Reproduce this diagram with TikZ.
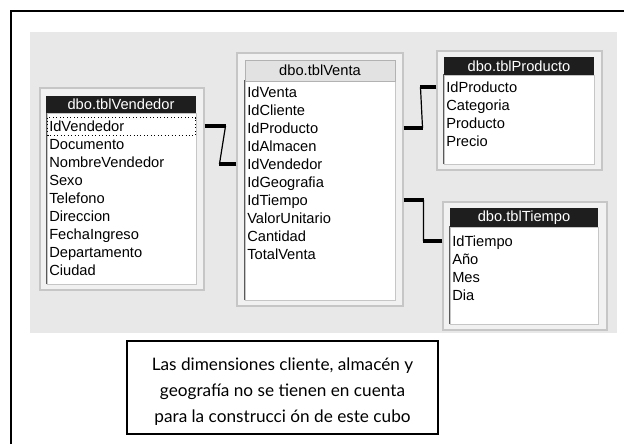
\documentclass[tikz,border=0pt]{standalone}
\usepackage{fontspec}
\setmainfont{Liberation Sans}
\newfontfamily\notefont{Lato}
\usetikzlibrary{positioning,fit}
\definecolor{panelgray}{RGB}{232,232,232}
\definecolor{tblface}{RGB}{241,241,241}
\definecolor{titledark}{RGB}{30,30,30}
\definecolor{titlelight}{RGB}{226,226,226}
\tikzset{
  tblpanel/.style={draw=gray!45, fill=tblface, line width=0.8pt, inner sep=0pt},
  tbllist/.style={draw=gray!45, fill=white, line width=0.6pt, inner sep=0pt},
  tbltitle/.style={fill=titledark, inner sep=0pt},
  tbltitlelight/.style={fill=titlelight, draw=gray!60, inner sep=0pt},
  titletext/.style={inner sep=0pt, font=\fontsize{11}{13}\selectfont},
  field/.style={anchor=west, inner sep=0pt, text height=8pt, text depth=0pt, font=\fontsize{11}{13}\selectfont},
  keystub/.style={line width=2.4pt},
  keyline/.style={line width=0.9pt},
  notebox/.style={draw, line width=1.3pt, inner sep=0pt},
  notetext/.style={inner sep=0pt, align=center, font=\notefont\fontsize{12.9}{19.5}\selectfont}
}
\begin{document}
\begin{tikzpicture}[x=0.75pt, y=-0.75pt]
\useasboundingbox (0,0) rectangle (624,444);
% page frame and diagram background
\draw[line width=0.9pt] (11,444) -- (11,11) -- (624,11);
\fill[panelgray] (30,32) rectangle (617,333);
% dbo.tblVendedor
\node[tblpanel, fit={(40,88) (204,290)}] (vendedor) {};
\node[tbllist, fit={(47,113) (196,284)}] (vendedor-list) {};
\draw[black!65, line width=0.8pt] (vendedor-list.south west) -- (vendedor-list.north west) -- (vendedor-list.north east);
\node[tbltitle, fit={(46,96) (196,113)}] (vendedor-title) {};
\node[titletext, text=white] at (vendedor-title) {dbo.tblVendedor};
\foreach \f [count=\i from 0] in {IdVendedor,Documento,NombreVendedor,Sexo,Telefono,Direccion,FechaIngreso,Departamento,Ciudad}
  \node[field] (vnd-\f) at (49,{126+18*\i}) {\f};
\draw[dotted, line width=0.6pt] (47.5,117.5) rectangle (195.5,135.5);
% dbo.tblVenta
\node[tblpanel, fit={(237,53) (403,306)}] (venta) {};
\node[tbllist, fit={(245,81) (395,300)}] (venta-list) {};
\draw[black!65, line width=0.8pt] (venta-list.south west) -- (venta-list.north west) -- (venta-list.north east);
\node[tbltitlelight, fit={(245,60) (395,81)}] (venta-title) {};
\node[titletext] at (venta-title) {dbo.tblVenta};
\foreach \f [count=\i from 0] in {IdVenta,IdCliente,IdProducto,IdAlmacen,IdVendedor,IdGeografia,IdTiempo,ValorUnitario,Cantidad,TotalVenta}
  \node[field] (vta-\f) at (247,{92+18*\i}) {\f};
% dbo.tblProducto
\node[tblpanel, fit={(437,51) (602,170)}] (producto) {};
\node[tbllist, fit={(444,75) (594,164)}] (producto-list) {};
\draw[black!65, line width=0.8pt] (producto-list.south west) -- (producto-list.north west) -- (producto-list.north east);
\node[tbltitle, fit={(444,57) (594,75)}] (producto-title) {};
\node[titletext, text=white] at (producto-title) {dbo.tblProducto};
\foreach \f [count=\i from 0] in {IdProducto,Categoria,Producto,Precio}
  \node[field] (prd-\f) at (446,{87+18*\i}) {\f};
% dbo.tblTiempo
\node[tblpanel, fit={(443,202) (607,330)}] (tiempo) {};
\node[tbllist, fit={(450,227) (598,324)}] (tiempo-list) {};
\draw[black!65, line width=0.8pt] (tiempo-list.south west) -- (tiempo-list.north west) -- (tiempo-list.north east);
\node[tbltitle, fit={(450,208) (598,227)}] (tiempo-title) {};
\node[titletext, text=white] at (tiempo-title) {dbo.tblTiempo};
\foreach \f/\t [count=\i from 0] in {IdTiempo/IdTiempo,Ano/Año,Mes/Mes,Dia/Dia}
  \node[field] (tmp-\f) at (452,{241+18*\i}) {\t};
% relationships
\draw[keystub] (vendedor.east |- vnd-IdVendedor) -- +(21,0) coordinate (r1a);
\draw[keystub] (venta.west |- vta-IdVendedor) -- +(-17,0) coordinate (r1b);
\draw[keyline] (r1a) -- (r1b);
\draw[keystub] (venta.east |- vta-IdProducto) -- +(19,0) coordinate (r2a);
\draw[keystub] (producto.west |- prd-IdProducto) -- +(-16,0) coordinate (r2b);
\draw[keyline] (r2a) -- (r2b);
\draw[keystub] (venta.east |- vta-IdTiempo) -- +(20,0) coordinate (r3a);
\draw[keystub] (tiempo.west |- tmp-IdTiempo) -- +(-19,0) coordinate (r3b);
\draw[keyline] (r3a) -- (r3b);
% note
\node[notebox, fit={(127,341) (438,434)}] (note) {};
\node[notetext] at ([yshift=-3pt]note.center) {Las dimensiones cliente, almacén y\\geografía no se tienen en cuenta\\para la construcci ón de este cubo};
\end{tikzpicture}
\end{document}
